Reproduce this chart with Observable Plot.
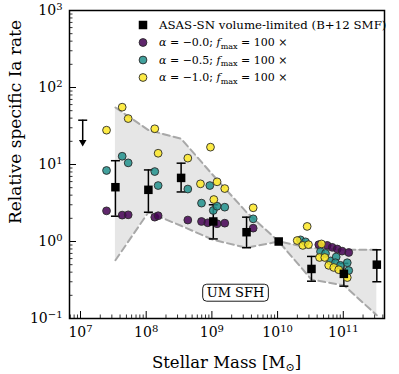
<!DOCTYPE html>
<html><head><meta charset="utf-8">
<script src="https://cdn.jsdelivr.net/npm/d3@7"></script>
<script src="https://cdn.jsdelivr.net/npm/@observablehq/plot@0.6"></script>
<style>body{margin:0;background:#fff} svg{font-family:"DejaVu Serif",serif}</style>
</head><body><div id="chart"></div>
<script>
// ASAS-SN volume-limited observations
const obsMass = [3.4e7, 1.08e8, 3.4e8, 1.05e9, 3.37e9, 1.04e10, 3.28e10, 1.02e11, 3.24e11];
const obsRate = [5.07, 4.69, 6.7, 1.82, 1.32, 1.0, 0.44, 0.38, 0.50];
const obsLo   = [2.13, 2.4, 4.4, 1.08, 0.83, null, 0.305, 0.263, 0.30];
const obsHi   = [11.2, 8.5, 10.4, 3.0, 2.07, null, 0.64, 0.52, 0.78];
// upper limit
const limMass = [1.08e7];
const limTop = [37.6];
const limTip = [19.5];
// UM SFH envelope
const bandMass  = [3.4e7, 1.08e8, 3.4e8, 1.05e9, 3.37e9, 1.04e10, 3.28e10, 1.02e11, 3.24e11];
const bandUpper = [55, 28, 21.6, 7.2, 2.4, 1.0, 0.82, 0.78, 0.78];
const bandLower = [0.57, 2.4, 1.6, 1.05, 0.83, 1.0, 0.32, 0.27, 0.11];
// alpha = -0.0
const purpleMass = [2.49e7, 4.31e7, 5.32e7, 1.35e8, 1.52e8, 4.3e8, 6.95e8, 8.65e8, 1.2e9, 1.57e9, 4.25e9, 4.24e10, 5.69e10, 6.78e10, 8.08e10, 9.6e10, 1.21e11];
const purpleRate = [2.5, 2.2, 2.22, 2.07, 2.16, 1.9, 1.82, 1.75, 1.70, 1.73, 1.49, 0.91, 0.89, 0.84, 0.80, 0.75, 0.72];
// alpha = -0.5
const tealMass = [2.49e7, 4.31e7, 5.32e7, 1.35e8, 1.52e8, 4.3e8, 6.95e8, 9.3e8, 1.05e9, 1.2e9, 1.57e9, 4.25e9, 2.23e10, 2.66e10, 4.5e10, 5.36e10, 6.38e10, 7.8e10, 7.6e10, 9.06e10, 1.15e11, 1.21e11];
const tealRate = [8.36, 12.8, 10.5, 8.1, 5.33, 4.8, 3.15, 5.33, 2.53, 2.87, 2.79, 1.97, 1.05, 0.99, 0.74, 0.70, 0.56, 0.63, 0.53, 0.49, 0.53, 0.42];
// alpha = -1.0
const yellowMass = [2.49e7, 4.31e7, 5.32e7, 1.35e8, 1.52e8, 4.3e8, 6.7e8, 9.52e8, 1.07e9, 1.2e9, 1.57e9, 4.25e9, 1.99e10, 2.42e10, 2.95e10, 2.82e10, 4.66e10, 4.35e10, 5.23e10, 6.0e10, 7.17e10, 8.53e10, 1.15e11];
const yellowRate = [27.9, 55.5, 39.5, 29.1, 14.0, 12.1, 5.61, 16.8, 3.51, 5.96, 4.87, 2.74, 1.03, 0.89, 0.91, 1.57, 0.93, 0.62, 0.62, 0.49, 0.46, 0.43, 0.34];

const seriesColors = ["#440154", "#21918c", "#fde725"];
const seriesNames = ["−0.0", "−0.5", "−1.0"];
const legendObs = "ASAS-SN volume-limited (B+12 SMF)";
const annotation = "UM SFH";
const xMajor = [1e7, 1e8, 1e9, 1e10, 1e11];
const yMajor = [0.1, 1, 10, 100, 1000];

const minors = (lo, hi) => { const out = []; for (let e = lo; e <= hi; e++) for (let k = 2; k <= 9; k++) out.push(k * Math.pow(10, e)); return out; };
const xMinor = minors(6, 11).filter(v => v > 6.8e6 && v < 4.24e11);
const yMinor = minors(-1, 2);

const toRows = (m, r) => m.map((v, i) => ({mass: v, rate: r[i]}));
const obs = obsMass.map((m, i) => ({mass: m, rate: obsRate[i], lo: obsLo[i], hi: obsHi[i]}));
const errs = obs.filter(d => d.lo != null);
const band = bandMass.map((m, i) => ({mass: m, up: bandUpper[i], low: bandLower[i]}));
const lim = limMass.map((m, i) => ({mass: m, top: limTop[i], tip: limTip[i]}));

const cap = {draw(ctx) { ctx.moveTo(-4.5, 0); ctx.lineTo(4.5, 0); }};
const dotStyle = {r: 3.9, fillOpacity: 0.85, stroke: "#2a2a2a", strokeWidth: 0.9};
const fmt = d => "10^" + Math.round(Math.log10(d));

const plot = Plot.plot({
  width: 399, height: 374,
  marginLeft: 69, marginRight: 15, marginTop: 10, marginBottom: 56,
  style: {fontFamily: "DejaVu Serif", background: "white", color: "black"},
  x: {type: "log", domain: [6.8e6, 4.24e11]},
  y: {type: "log", domain: [0.1, 1000]},
  marks: [
    Plot.areaY(band, {x: "mass", y1: "low", y2: "up", fill: "#e6e6e6"}),
    Plot.line(band, {x: "mass", y: "up", stroke: "#a8a8a8", strokeWidth: 2, strokeDasharray: "7,4"}),
    Plot.line(band, {x: "mass", y: "low", stroke: "#a8a8a8", strokeWidth: 2, strokeDasharray: "7,4"}),
    Plot.ruleX(errs, {x: "mass", y1: "lo", y2: "hi", stroke: "black", strokeWidth: 1.5}),
    Plot.dot(errs, {x: "mass", y: "lo", symbol: cap, stroke: "black", strokeWidth: 1.5}),
    Plot.dot(errs, {x: "mass", y: "hi", symbol: cap, stroke: "black", strokeWidth: 1.5}),
    Plot.ruleX(lim, {x: "mass", y1: "top", y2: "tip", stroke: "black", strokeWidth: 1.5}),
    Plot.dot(lim, {x: "mass", y: "top", symbol: cap, stroke: "black", strokeWidth: 1.5}),
    Plot.dot(lim, {x: "mass", y: "tip", symbol: "triangle", rotate: 180, r: 2.8, fill: "black"}),
    Plot.dot(toRows(purpleMass, purpleRate), {x: "mass", y: "rate", fill: seriesColors[0], ...dotStyle}),
    Plot.dot(toRows(tealMass, tealRate), {x: "mass", y: "rate", fill: seriesColors[1], ...dotStyle}),
    Plot.dot(toRows(yellowMass, yellowRate), {x: "mass", y: "rate", fill: seriesColors[2], ...dotStyle}),
    Plot.dot(obs, {x: "mass", y: "rate", symbol: "square", r: 4.8, fill: "black"}),
    Plot.text([annotation], {x: [2.29e9], y: [0.214], text: d => d, fontSize: 13, fill: "black"}),
    Plot.frame({stroke: "black", strokeWidth: 1.5}),
    Plot.axisX({ticks: xMajor, tickSize: -7, tickFormat: () => "", label: null, strokeWidth: 1}),
    Plot.axisX({ticks: xMinor, tickSize: -3.5, tickFormat: () => "", label: null, strokeWidth: 0.8}),
    Plot.axisY({ticks: yMajor, tickSize: -7, tickFormat: () => "", label: null, strokeWidth: 1}),
    Plot.axisY({ticks: yMinor, tickSize: -3.5, tickFormat: () => "", label: null, strokeWidth: 0.8}),
    Plot.axisX({ticks: xMajor, tickSize: 0, tickPadding: 9, tickFormat: fmt, label: null, fontSize: 14}),
    Plot.axisY({ticks: yMajor, tickSize: 0, tickPadding: 7, tickFormat: fmt, label: null, fontSize: 14})
  ]
});
document.getElementById("chart").appendChild(plot);
const svg = d3.select(plot);

// superscript exponents
svg.selectAll("text").each(function () {
  const m = /^10\^(.+)$/.exec(this.textContent);
  if (m) {
    const t = d3.select(this);
    this.textContent = "";
    t.append("tspan").text("10");
    t.append("tspan").attr("dy", "-0.5em").attr("font-size", "10px").text(m[1].replace("-", "−"));
  }
});

// annotation box (same local transform as the text)
svg.selectAll("text").filter(function () { return this.textContent === annotation; }).each(function () {
  const bb = this.getBBox();
  const tr = this.getAttribute("transform");
  const r = d3.select(this.parentNode).insert("rect", "text").attr("x", bb.x - 4).attr("y", bb.y - 1)
    .attr("width", bb.width + 8).attr("height", bb.height + 2)
    .attr("rx", 4).attr("fill", "white").attr("stroke", "black").attr("stroke-width", 0.9);
  if (tr) r.attr("transform", tr);
});

// axis labels
const xl = svg.append("text").attr("x", 226.5).attr("y", 368).attr("text-anchor", "middle")
  .attr("font-size", 16.5).attr("fill", "black");
xl.append("tspan").text("Stellar Mass [M");
xl.append("tspan").attr("font-size", 11).attr("dy", 3).text("⊙");
xl.append("tspan").attr("dy", -3).text("]");
svg.append("text").attr("transform", "translate(21,122) rotate(-90)").attr("text-anchor", "middle")
  .attr("font-size", 17).attr("fill", "black").text("Relative specific Ia rate");

// legend
const lg = svg.append("g").attr("font-size", 11).attr("fill", "black").attr("text-anchor", "start");
const rows = [25, 42.5, 60, 77.5];
const mx = 143, tx = 159;
lg.append("rect").attr("x", mx - 4.25).attr("y", rows[0] - 4.25).attr("width", 8.5).attr("height", 8.5).attr("fill", "black");
lg.append("text").attr("x", tx).attr("y", rows[0]).attr("dy", "0.35em").attr("font-size", 11.8).text(legendObs);
seriesNames.forEach((nm, i) => {
  const y = rows[i + 1];
  lg.append("circle").attr("cx", mx).attr("cy", y).attr("r", 3.9).attr("fill", seriesColors[i])
    .attr("fill-opacity", 0.85).attr("stroke", "#2a2a2a").attr("stroke-width", 0.9);
  const t = lg.append("text").attr("x", tx).attr("y", y).attr("dy", "0.35em");
  t.append("tspan").attr("font-style", "italic").text("α");
  t.append("tspan").text(" = " + nm + "; ");
  t.append("tspan").attr("font-style", "italic").text("f");
  t.append("tspan").attr("font-size", 8).attr("dy", 2.5).text("max");
  t.append("tspan").attr("dy", -2.5).text(" = 100 ×");
});
</script></body></html>
